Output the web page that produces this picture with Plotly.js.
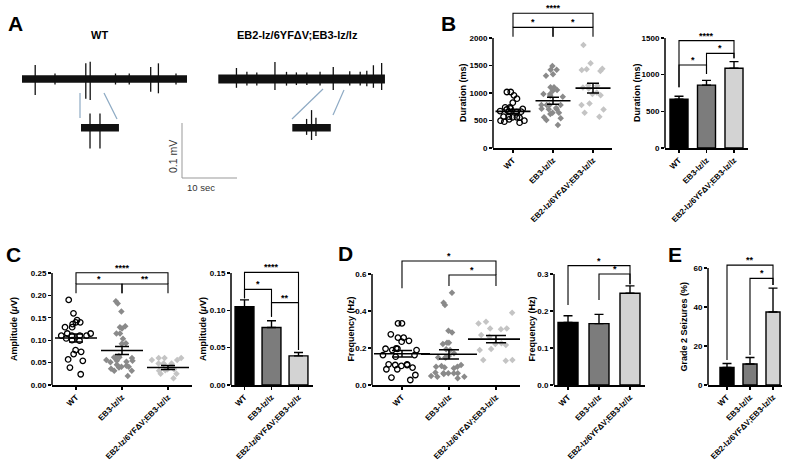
<!DOCTYPE html>
<html><head><meta charset="utf-8">
<script src="https://cdn.plot.ly/plotly-3.0.1.min.js"></script>
<style>html,body{margin:0;padding:0;background:#fff}#chart{width:800px;height:470px}</style>
</head><body><div id="chart"></div>
<script>
// ================= DATA =================
const groups = ["WT", "EB3-lz/lz", "EB2-lz/6YF\u0394V;EB3-lz/lz"];

// Panel B – event duration (ms)
const durWT  = [1018, 958, 1018, 897, 824, 740, 710, 720, 740, 700, 650, 660, 655, 672, 557, 570, 551, 557, 570, 497, 479, 497, 521, 460];
const durEB3 = [1424, 1491, 1424, 1339, 1315, 1103, 1103, 1042, 1054, 982, 933, 951, 982, 782, 782, 782, 776, 715, 703, 727, 703, 642, 618, 642, 539, 557, 509, 418];
const durEB2 = [1873, 1539, 1430, 1400, 1418, 1442, 1130, 1080, 1100, 1140, 980, 960, 1010, 780, 810, 700, 570, 640];
const durMean = [665, 858, 1088];
const durSem  = [40, 64, 90];

// Panel C – amplitude (µV)
const ampWT  = [0.190, 0.160, 0.145, 0.140, 0.136, 0.140, 0.129, 0.129, 0.115, 0.115, 0.110, 0.110, 0.104, 0.110, 0.110, 0.099, 0.100, 0.078, 0.074, 0.069, 0.057, 0.054, 0.039, 0.024];
const ampEB3 = [0.187, 0.182, 0.164, 0.129, 0.126, 0.131, 0.115, 0.115, 0.103, 0.092, 0.093, 0.065, 0.060, 0.060, 0.062, 0.062, 0.054, 0.051, 0.054, 0.052, 0.056, 0.045, 0.041, 0.041, 0.039, 0.043, 0.036, 0.032, 0.032, 0.020];
const ampEB2 = [0.060, 0.060, 0.056, 0.056, 0.060, 0.048, 0.047, 0.041, 0.048, 0.048, 0.035, 0.032, 0.033, 0.035, 0.025, 0.025, 0.015];
const ampMean = [0.105, 0.077, 0.039];
const ampSem  = [0.009, 0.009, 0.0045];

// Panel D – frequency (Hz)
const freqWT  = [0.333, 0.333, 0.256, 0.234, 0.256, 0.274, 0.239, 0.189, 0.189, 0.198, 0.196, 0.196, 0.162, 0.153, 0.162, 0.112, 0.108, 0.108, 0.103, 0.094, 0.112, 0.085, 0.085, 0.054, 0.040, 0.027];
const freqEB3 = [0.499, 0.445, 0.432, 0.284, 0.293, 0.229, 0.229, 0.221, 0.193, 0.189, 0.171, 0.157, 0.149, 0.148, 0.149, 0.099, 0.099, 0.090, 0.095, 0.103, 0.108, 0.063, 0.059, 0.063, 0.063, 0.063, 0.067, 0.045, 0.036, 0.045, 0.049];
const freqEB2 = [0.391, 0.342, 0.333, 0.306, 0.306, 0.301, 0.270, 0.261, 0.216, 0.225, 0.221, 0.189, 0.194, 0.135, 0.131, 0.135];
const freqMean = [0.169, 0.166, 0.248];
const freqSem  = [0.018, 0.025, 0.020];

// Panel E – grade 2 seizures (%)
const seizMean = [9.0, 10.8, 37.4];
const seizSem  = [2.0, 3.3, 12.3];

// Panel A – EEG example traces (seconds, mV)
const wtEegDur = 30.0;
const wtSpikeT  = [2.4, 6.0, 11.6, 12.4, 17.0, 19.5, 23.4, 24.8, 28.0];
const wtSpikeUp = [0.0255, 0.010, 0.0285, 0.0315, 0.010, 0.010, 0.022, 0.0285, 0.010];
const wtSpikeDn = [0.029, 0.010, 0.036, 0.038, 0.010, 0.010, 0.023, 0.026, 0.010];
const ebEegDur = 30.3;
const ebSpikeT  = [3.3, 5.2, 7.0, 10.3, 12.4, 14.2, 16.1, 18.5, 20.9, 23.9, 25.8, 27.0, 28.2, 29.7];
const ebSpikeUp = [0.020, 0.013, 0.012, 0.031, 0.013, 0.012, 0.012, 0.013, 0.022, 0.014, 0.013, 0.015, 0.025, 0.029];
const ebSpikeDn = [0.016, 0.012, 0.012, 0.020, 0.012, 0.011, 0.011, 0.012, 0.020, 0.012, 0.012, 0.013, 0.016, 0.020];
const wtInsetDur = 6.9;
const wtInsetT  = [1.64, 3.45];
const wtInsetUp = [0.026, 0.026];
const wtInsetDn = [0.0376, 0.0376];
const ebInsetDur = 7.0;
const ebInsetT  = [2.6, 3.5, 4.3];
const ebInsetUp = [0.016, 0.032, 0.018];
const ebInsetDn = [0.013, 0.0224, 0.015];
const scaleSec = 10, scaleMv = 0.1;

// ================= LAYOUT HELPERS =================
const W = 800, H = 470;
const FONT = 'Liberation Sans, Arial, Helvetica, sans-serif';
const dom = (a, b) => [a / W, b / W];
const ydom = (top, bot) => [1 - bot / H, 1 - top / H];
// panel A axis: 5.5 px per second, 550 px per mV, trace baseline at y px 79, t=0 at x px 22
const tA = p => (p - 22) / 5.5;
const vA = p => (79 - p) / 550;

const traces = [];
const layout = {
  width: W, height: H, margin: {l: 0, r: 0, t: 0, b: 0},
  paper_bgcolor: '#fff', plot_bgcolor: 'rgba(0,0,0,0)',
  showlegend: false, boxmode: 'overlay',
  font: {family: FONT, color: '#000'},
  xaxis: {domain: dom(12, 395), range: [tA(12), tA(395)], visible: false, fixedrange: true},
  yaxis: {domain: ydom(20, 190), range: [vA(190), vA(20)], visible: false, fixedrange: true},
  shapes: [], annotations: []
};

// ---------- Panel A ----------
function eeg(t0, y0, dur, ts, up, dn, bandW) {
  traces.push({type: 'scatter', mode: 'lines', x: [t0, t0 + dur], y: [y0, y0],
    line: {color: '#111', width: bandW}, xaxis: 'x', yaxis: 'y', hoverinfo: 'skip'});
  const x = [], y = [];
  ts.forEach((t, i) => { x.push(t0 + t, t0 + t, null); y.push(y0 + up[i], y0 - dn[i], null); });
  traces.push({type: 'scatter', mode: 'lines', x: x, y: y, connectgaps: false,
    line: {color: '#111', width: 1.3}, xaxis: 'x', yaxis: 'y', hoverinfo: 'skip'});
}
eeg(tA(22), 0, wtEegDur, wtSpikeT, wtSpikeUp, wtSpikeDn, 7.5);
eeg(tA(218.3), 0, ebEegDur, ebSpikeT, ebSpikeUp, ebSpikeDn, 9);
eeg(tA(81), vA(127.7), wtInsetDur, wtInsetT, wtInsetUp, wtInsetDn, 7.5);
eeg(tA(292.3), vA(127.7), ebInsetDur, ebInsetT, ebInsetUp, ebInsetDn, 7.5);

const zoomLine = {color: '#8eaac4', width: 1.2};
[[80, 93, 80, 118], [104, 93, 117, 119], [323, 89, 292, 119], [344, 90, 333, 115]].forEach(s => {
  layout.shapes.push({type: 'line', xref: 'x', yref: 'y', x0: tA(s[0]), y0: vA(s[1]), x1: tA(s[2]), y1: vA(s[3]), line: zoomLine});
});
// scale bar
const sbT = tA(182), sbV = vA(178);
layout.shapes.push({type: 'path', xref: 'x', yref: 'y',
  path: `M${sbT},${sbV + scaleMv} L${sbT},${sbV} L${sbT + scaleSec},${sbV}`, line: {color: '#999', width: 1}});
layout.annotations.push({xref: 'x', yref: 'y', x: tA(173), y: vA(157), text: scaleMv + ' mV', textangle: -90,
  showarrow: false, font: {size: 10.5, color: '#333'}, xanchor: 'center', yanchor: 'middle'});
layout.annotations.push({xref: 'x', yref: 'y', x: tA(201), y: vA(188), text: scaleSec + ' sec',
  showarrow: false, font: {size: 9.5, color: '#333'}, xanchor: 'center', yanchor: 'middle'});
layout.annotations.push({xref: 'paper', yref: 'paper', x: 99 / W, y: 1 - 35 / H, text: groups[0], showarrow: false,
  font: {size: 11, weight: 'bold'}, xanchor: 'center', yanchor: 'middle'});
layout.annotations.push({xref: 'paper', yref: 'paper', x: 297 / W, y: 1 - 35 / H, text: groups[2], showarrow: false,
  font: {size: 11, weight: 'bold'}, xanchor: 'center', yanchor: 'middle'});

// panel letters
[['A', 15, 23], ['B', 448, 23], ['C', 13, 254], ['D', 345, 253], ['E', 675, 254]].forEach(l => {
  layout.annotations.push({xref: 'paper', yref: 'paper', x: l[1] / W, y: 1 - l[2] / H, text: l[0], showarrow: false,
    font: {size: 21, weight: 'bold'}, xanchor: 'center', yanchor: 'middle'});
});

// ---------- chart panels ----------
const panels = [
  {id: 2, x: [493, 612], y: [0, 148], xr: [-0.5, 2.475], yr: [0, 2690.9], yt: [0, 500, 1000, 1500, 2000], fmt: 'd',
   title: 'Duration (ms)', tx: 463,
   br: [[0, 2, 2449, 2194, 2194, '****'], [0, 1, 2194, 2024, 2024, '*'], [1, 2, 2194, 2024, 2024, '*']]},
  {id: 3, x: [665, 748], y: [0, 148], xr: [-0.509, 2.509], yr: [0, 2018.2], yt: [0, 500, 1000, 1500], fmt: 'd',
   title: 'Duration (ms)', tx: 637,
   br: [[0, 2, 1464, 828, 1223, '****'], [0, 1, 1132, 828, 1009, '*'], [1, 2, 1291, 1009, 1223, '*']]},
  {id: 4, x: [52, 192], y: [255, 385], xr: [-0.522, 2.522], yr: [0, 0.29018], yt: [0, 0.05, 0.10, 0.15, 0.20, 0.25], fmt: '.2f',
   title: 'Amplitude (<i>\u03bc</i>V)', tx: 14,
   br: [[0, 2, 0.2506, 0.2254, 0.2254, '****'], [0, 1, 0.2254, 0.2047, 0.2047, '*'], [1, 2, 0.2254, 0.2047, 0.2047, '**']]},
  {id: 5, x: [231, 313], y: [255, 385], xr: [-0.5, 2.537], yr: [0, 0.17411], yt: [0, 0.05, 0.10, 0.15], fmt: '.2f',
   title: 'Amplitude (<i>\u03bc</i>V)', tx: 203,
   br: [[0, 2, 0.1509, 0.1161, 0.0469, '****'], [0, 1, 0.1281, 0.1161, 0.0915, '*'], [1, 2, 0.1103, 0.0915, 0.0469, '**']]},
  {id: 6, x: [372, 520], y: [255, 385], xr: [-0.638, 2.511], yr: [0, 0.7027], yt: [0, 0.2, 0.4, 0.6], fmt: '.1f',
   title: 'Frequency (Hz)', tx: 350,
   br: [[0, 2, 0.670, 0.5225, 0.5946, '*'], [1, 2, 0.5946, 0.535, 0.535, '*']]},
  {id: 7, x: [554, 645], y: [255, 385], xr: [-0.452, 2.484], yr: [0, 0.35135], yt: [0, 0.1, 0.2, 0.3], fmt: '.1f',
   title: 'Frequency (Hz)', tx: 531,
   br: [[0, 2, 0.3225, 0.2162, 0.2721, '*'], [1, 2, 0.300, 0.2297, 0.2721, '*']]},
  {id: 8, x: [708, 782], y: [255, 385], xr: [-0.826, 2.391], yr: [0, 66.67], yt: [0, 20, 40, 60], fmt: 'd',
   title: 'Grade 2 Seizures (%)', tx: 683,
   br: [[0, 2, 61.5, 12.8, 51.3, '**'], [1, 2, 54.7, 15.4, 51.3, '*']]}
];

panels.forEach(p => {
  const xid = 'x' + p.id, yid = 'y' + p.id;
  layout['xaxis' + p.id] = {domain: dom(p.x[0], p.x[1]), range: p.xr, anchor: yid, showline: true, linecolor: '#000',
    linewidth: 1.5, ticks: 'outside', ticklen: 3, tickwidth: 1.2, tickcolor: '#000', tickvals: [0, 1, 2], ticktext: groups,
    tickangle: -45, tickfont: {size: 8, weight: 'bold', color: '#000'}, showgrid: false, zeroline: false, fixedrange: true};
  layout['yaxis' + p.id] = {domain: ydom(p.y[0], p.y[1]), range: p.yr, anchor: xid, showline: false, ticks: 'outside',
    ticklen: 3, tickwidth: 1.2, tickcolor: '#000', tickvals: p.yt, tickformat: p.fmt,
    tickfont: {size: 8, weight: 'bold', color: '#000'}, showgrid: false, zeroline: false, fixedrange: true};
  layout.shapes.push({type: 'line', xref: xid + ' domain', x0: 0, x1: 0, yref: yid, y0: 0, y1: p.yt[p.yt.length - 1],
    line: {color: '#000', width: 1.5}});
  const yt = p.yt;
  layout.annotations.push({xref: 'paper', x: p.tx / W, yref: yid, y: (yt[0] + yt[yt.length - 1]) / 2, text: p.title,
    textangle: -90, showarrow: false, font: {size: 9, weight: 'bold'}, xanchor: 'center', yanchor: 'middle'});
  p.br.forEach(b => {
    layout.shapes.push({type: 'path', xref: xid, yref: yid,
      path: `M${b[0]},${b[3]} L${b[0]},${b[2]} L${b[1]},${b[2]} L${b[1]},${b[4]}`, line: {color: '#000', width: 1.1}});
    layout.annotations.push({xref: xid, yref: yid, x: (b[0] + b[1]) / 2, y: b[2], text: b[5], showarrow: false,
      font: {size: 9, weight: 'bold', color: '#000'}, xanchor: 'center', yanchor: 'bottom', yshift: -2});
  });
});

// ---------- dot plots ----------
const dotStyles = [
  {symbol: 'circle-open', size: 5.5, color: '#000', line: {width: 1.3, color: '#000'}},
  {symbol: 'diamond', size: 5, color: '#8a8a8a', line: {width: 0}},
  {symbol: 'diamond', size: 5, color: '#c4c4c4', line: {width: 0}}
];
function dotPanel(id, sets, mean, sem, boxW, lineLen, capW) {
  sets.forEach((vals, i) => {
    traces.push({type: 'box', orientation: 'v', x: vals.map(() => i), y: vals, xaxis: 'x' + id, yaxis: 'y' + id,
      boxpoints: 'all', jitter: 1, pointpos: 0, width: boxW, fillcolor: 'rgba(0,0,0,0)',
      line: {color: 'rgba(0,0,0,0)', width: 0}, whiskerwidth: 0, marker: dotStyles[i], hoverinfo: 'skip'});
  });
  traces.push({type: 'scatter', mode: 'markers', x: [0, 1, 2], y: mean, xaxis: 'x' + id, yaxis: 'y' + id,
    marker: {symbol: 'line-ew', size: lineLen, color: '#000', line: {width: 1.6, color: '#000'}},
    error_y: {type: 'data', array: sem, visible: true, color: '#000', thickness: 1.5, width: capW}, hoverinfo: 'skip'});
}
dotPanel(2, [durWT, durEB3, durEB2], durMean, durSem, 0.78, 25, 6);
dotPanel(4, [ampWT, ampEB3, ampEB2], ampMean, ampSem, 0.72, 30, 7);
dotPanel(6, [freqWT, freqEB3, freqEB2], freqMean, freqSem, 0.9, 40, 10);

// ---------- bar charts ----------
const barColors = ['#000000', '#7c7c7c', '#d3d3d3'];
function barPanel(id, mean, sem, w) {
  traces.push({type: 'bar', x: [0, 1, 2], y: mean, width: w, xaxis: 'x' + id, yaxis: 'y' + id,
    marker: {color: barColors, line: {color: '#000', width: 1.4}},
    error_y: {type: 'data', symmetric: false, array: sem, arrayminus: [0, 0, 0], visible: true,
      color: '#000', thickness: 1.4, width: 4.5}, hoverinfo: 'skip'});
}
barPanel(3, durMean, durSem, 0.655);
barPanel(5, ampMean, ampSem, 0.7);
barPanel(7, freqMean, freqSem, 0.645);
barPanel(8, seizMean, seizSem, 0.61);

Plotly.newPlot('chart', traces, layout, {staticPlot: true, displayModeBar: false});
</script>
</body></html>
